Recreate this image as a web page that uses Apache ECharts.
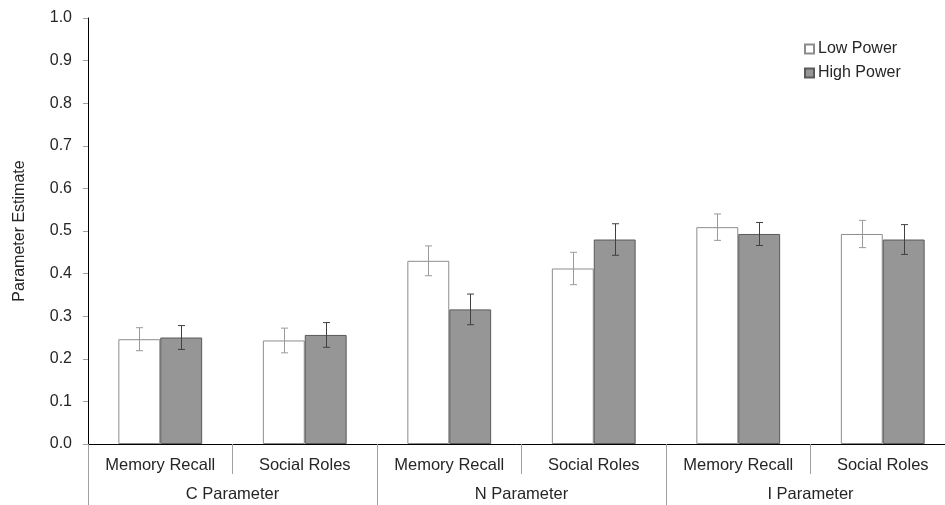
<!DOCTYPE html>
<html>
<head>
<meta charset="utf-8">
<script src="https://cdn.jsdelivr.net/npm/echarts@6/dist/echarts.min.js"></script>
<style>
  html, body { margin: 0; padding: 0; background: #fff; }
  #chart { width: 945px; height: 505px; }
</style>
</head>
<body>
<div id="chart"></div>
<script>
// Sub-categories (lower axis row) and their parameter groups (second row)
var subCategories = ['Memory Recall', 'Social Roles', 'Memory Recall', 'Social Roles', 'Memory Recall', 'Social Roles'];
var groupCategories = ['C Parameter', 'N Parameter', 'I Parameter'];

// Parameter estimates per condition
var lowPower  = [0.246, 0.243, 0.430, 0.412, 0.509, 0.493];
var highPower = [0.250, 0.256, 0.316, 0.480, 0.493, 0.480];

// Half-length of each error bar
var lowPowerErr  = [0.027, 0.029, 0.035, 0.038, 0.031, 0.032];
var highPowerErr = [0.028, 0.029, 0.036, 0.037, 0.027, 0.035];

var BAR_CATEGORY_GAP = 0.42;
var FONT = 'Liberation Sans, Arial, sans-serif';
var TEXT = '#262626';

function errData(vals, errs) {
  return vals.map(function (v, i) { return [i, v - errs[i], v + errs[i]]; });
}

function errorRenderer(side, color) {
  return function (params, api) {
    var idx = api.value(0);
    var lo = api.coord([idx, api.value(1)]);
    var hi = api.coord([idx, api.value(2)]);
    var band = api.size([1, 0])[0];
    var barW = band * (1 - BAR_CATEGORY_GAP) / 2;
    var x = Math.round(lo[0] + side * barW / 2) + 0.5;
    var cap = 3.5;
    var style = { stroke: color, lineWidth: 1 };
    return {
      type: 'group',
      children: [
        { type: 'line', shape: { x1: x, y1: hi[1], x2: x, y2: lo[1] }, style: style },
        { type: 'line', shape: { x1: x - cap, y1: hi[1], x2: x + cap, y2: hi[1] }, style: style },
        { type: 'line', shape: { x1: x - cap, y1: lo[1], x2: x + cap, y2: lo[1] }, style: style }
      ]
    };
  };
}

var chart = echarts.init(document.getElementById('chart'));
chart.setOption({
  backgroundColor: '#ffffff',
  animation: false,
  textStyle: { fontFamily: FONT },
  grid: { left: 88, right: -10, top: 18, bottom: 61, containLabel: false, outerBoundsMode: 'none' },
  legend: {
    orient: 'vertical',
    left: 799,
    top: 36,
    itemWidth: 9,
    itemHeight: 9,
    itemGap: 8,
    icon: 'rect',
    data: ['Low Power', 'High Power'],
    textStyle: { fontSize: 16, color: TEXT, fontFamily: FONT, padding: [0, 0, 0, -1] }
  },
  xAxis: [
    {
      type: 'category',
      data: subCategories,
      position: 'bottom',
      axisLine: { show: true, lineStyle: { color: '#000', width: 1 } },
      axisTick: { show: true, interval: 0, length: 30, lineStyle: { color: '#a0a0a0' } },
      axisLabel: { interval: 0, fontSize: 16.5, color: TEXT, margin: 13, fontFamily: FONT },
      splitLine: { show: false }
    },
    {
      type: 'category',
      data: groupCategories,
      position: 'bottom',
      offset: 30,
      axisLine: { show: false },
      axisTick: { show: true, interval: 0, length: 31, lineStyle: { color: '#a0a0a0' } },
      axisLabel: { interval: 0, fontSize: 16.5, color: TEXT, margin: 12, fontFamily: FONT },
      splitLine: { show: false }
    }
  ],
  yAxis: {
    type: 'value',
    min: 0,
    max: 1,
    interval: 0.1,
    name: 'Parameter Estimate',
    nameLocation: 'middle',
    nameGap: 60,
    nameTextStyle: { fontSize: 16, color: TEXT, fontFamily: FONT },
    axisLine: { show: true, lineStyle: { color: '#000', width: 1 } },
    axisTick: { show: true, length: 5, lineStyle: { color: '#a0a0a0' } },
    axisLabel: {
      fontSize: 16, color: TEXT, margin: 16, fontFamily: FONT,
      formatter: function (v) { return v.toFixed(1); }
    },
    splitLine: { show: false }
  },
  series: [
    {
      name: 'Low Power',
      type: 'bar',
      data: lowPower,
      barGap: '0%',
      barCategoryGap: (BAR_CATEGORY_GAP * 100) + '%',
      itemStyle: { color: '#ffffff', borderColor: '#8c8c8c', borderWidth: 1 }
    },
    {
      name: 'High Power',
      type: 'bar',
      data: highPower,
      barGap: '0%',
      barCategoryGap: (BAR_CATEGORY_GAP * 100) + '%',
      itemStyle: { color: '#969696', borderColor: '#5a5a5a', borderWidth: 1 }
    },
    {
      name: 'Low Power SE',
      type: 'custom',
      data: errData(lowPower, lowPowerErr),
      renderItem: errorRenderer(-1, '#9a9a9a'),
      encode: { x: 0, y: [1, 2] },
      silent: true,
      z: 5
    },
    {
      name: 'High Power SE',
      type: 'custom',
      data: errData(highPower, highPowerErr),
      renderItem: errorRenderer(1, '#404040'),
      encode: { x: 0, y: [1, 2] },
      silent: true,
      z: 5
    }
  ]
});
</script>
</body>
</html>
